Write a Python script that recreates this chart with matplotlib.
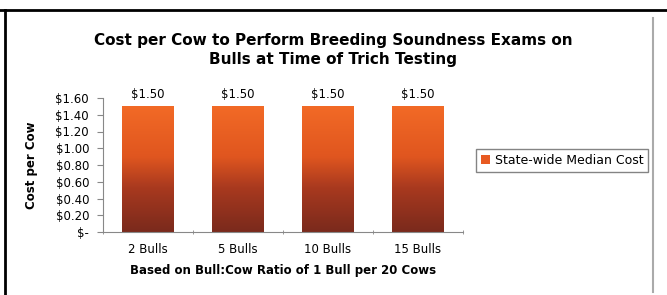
import numpy as np
import matplotlib.pyplot as plt
from matplotlib.colors import LinearSegmentedColormap
from matplotlib.lines import Line2D
from matplotlib.ticker import FuncFormatter

plt.rcParams['font.family'] = ['DejaVu Sans']

# datos
categorias = ["2 Bulls", "5 Bulls", "10 Bulls", "15 Bulls"]
costo = [1.50, 1.50, 1.50, 1.50]
etiquetas = ["$1.50", "$1.50", "$1.50", "$1.50"]

W, H = 667, 295
fig = plt.figure(figsize=(6.67, 2.95), dpi=100)
ax = fig.add_axes([103 / W, 1 - 232 / H, 360 / W, 134 / H])

# marco exterior (negro arriba e izquierda, gris a la derecha)
fig.lines.append(Line2D([0, 1], [1 - 10 / H, 1 - 10 / H], transform=fig.transFigure,
                        color='black', linewidth=2))
fig.lines.append(Line2D([5 / W, 5 / W], [0, 1 - 10 / H], transform=fig.transFigure,
                        color='black', linewidth=2))
fig.lines.append(Line2D([653 / W, 653 / W], [1 - 292 / H, 1 - 18 / H], transform=fig.transFigure,
                        color='#aaaaaa', linewidth=1.5))

# degradado naranja -> marrón
cmap = LinearSegmentedColormap.from_list(
    "naranja", [(0.0, "#7a2a1c"), (0.35, "#a8391f"), (0.6, "#e0561f"), (1.0, "#f26a26")])
grad = np.linspace(0, 1, 256).reshape(-1, 1)

x = np.arange(len(categorias))
ancho = 0.57
barras = ax.bar(x, costo, width=ancho, color="none", edgecolor="none",
                label="State-wide Median Cost")
for b, v, t in zip(barras, costo, etiquetas):
    x0 = b.get_x()
    ax.imshow(grad, cmap=cmap, origin='lower', aspect='auto',
              extent=(x0, x0 + ancho, 0, v), zorder=2)
    ax.text(x0 + ancho / 2, v + 0.06, t, ha='center', va='bottom', fontsize=8.5)

ax.set_xlim(-0.5, len(categorias) - 0.5)
ax.set_ylim(0, 1.6)
ax.set_yticks(np.arange(0, 1.61, 0.2))
ax.yaxis.set_major_formatter(FuncFormatter(lambda v, p: "$-" if v == 0 else "${:.2f}".format(v)))
ax.set_xticks(x)
ax.set_xticklabels(categorias)
ax.set_xticks(np.arange(-0.5, len(categorias)), minor=True)
ax.tick_params(axis='x', which='major', length=0, pad=8, labelsize=8.5)
ax.tick_params(axis='x', which='minor', length=3, direction='inout', color='#888888')
ax.tick_params(axis='y', length=4, color='#888888', labelsize=8.5, pad=6)

for lado in ['top', 'right']:
    ax.spines[lado].set_visible(False)
ax.spines['left'].set_color('#888888')
ax.spines['bottom'].set_color('#888888')

ax.set_ylabel("Cost per Cow", fontsize=8.5, fontweight='bold')
ax.yaxis.set_label_coords(38 / W, 1 - 165 / H, transform=fig.transFigure)
ax.set_xlabel("Based on Bull:Cow Ratio of 1 Bull per 20 Cows", fontsize=8.5,
              fontweight='bold')
ax.xaxis.set_label_coords(283 / W, 1 - 264 / H, transform=fig.transFigure)

fig.text(333 / W, 1 - 50 / H, "Cost per Cow to Perform Breeding Soundness Exams on\nBulls at Time of Trich Testing",
         ha='center', va='center', fontsize=11, fontweight='bold', linespacing=1.3)

ley = ax.legend(loc='center left', bbox_to_anchor=(476 / W, 1 - 160 / H),
                bbox_transform=fig.transFigure, fontsize=9, frameon=True,
                fancybox=False, handlelength=0.7, handleheight=0.7, handletextpad=0.4,
                borderpad=0.4, borderaxespad=0)
ley.get_frame().set_edgecolor('#666666')
ley.legend_handles[0].set_facecolor('#e85a22')

fig.savefig("out.png", dpi=100)
